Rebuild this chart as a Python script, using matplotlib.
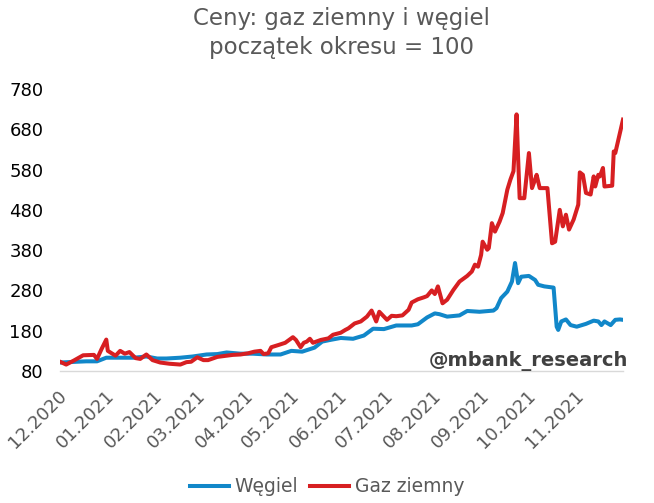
import matplotlib
matplotlib.use('Agg')
import matplotlib.pyplot as plt
import matplotlib.dates as mdates
import matplotlib.transforms as mtransforms
import pandas as pd

# ---------------- data ----------------
coal_dates = [
    "2020-12-01", "2020-12-12", "2020-12-18", "2020-12-25", "2020-12-31",
    "2021-01-07", "2021-01-18", "2021-01-26", "2021-02-02", "2021-02-08",
    "2021-02-17", "2021-02-25", "2021-03-06", "2021-03-13", "2021-03-19",
    "2021-03-28", "2021-04-05", "2021-04-14", "2021-04-23", "2021-04-30",
    "2021-05-07", "2021-05-15", "2021-05-20", "2021-05-25", "2021-06-01",
    "2021-06-09", "2021-06-16", "2021-06-22", "2021-06-29", "2021-07-07",
    "2021-07-17", "2021-07-21", "2021-07-27", "2021-08-01", "2021-08-04",
    "2021-08-09", "2021-08-17", "2021-08-22", "2021-08-30", "2021-09-08",
    "2021-09-10", "2021-09-13", "2021-09-17", "2021-09-20", "2021-09-22",
    "2021-09-24", "2021-09-26", "2021-10-01", "2021-10-05", "2021-10-07",
    "2021-10-11", "2021-10-17", "2021-10-19", "2021-10-20", "2021-10-22",
    "2021-10-25", "2021-10-28", "2021-11-01", "2021-11-07", "2021-11-12",
    "2021-11-15", "2021-11-17", "2021-11-19", "2021-11-23", "2021-11-26",
    "2021-11-29", "2021-12-01",
]
coal_values = [
    101, 103, 104, 104, 113,
    113, 113, 116, 111, 111,
    113, 116, 121, 122, 126,
    123, 123, 121, 121, 130,
    128, 138, 153, 157, 162,
    160, 168, 185, 184, 193,
    193, 196, 213, 223, 221,
    215, 218, 229, 227, 230,
    236, 261, 277, 302, 348,
    298, 314, 316, 306, 294,
    290, 287, 190, 182, 203,
    208, 194, 190, 197, 205,
    203, 194, 203, 194, 207,
    208, 207,
]

gas_dates = [
    "2020-12-01", "2020-12-05", "2020-12-10", "2020-12-16", "2020-12-23",
    "2020-12-25", "2020-12-28", "2020-12-31", "2021-01-01", "2021-01-06",
    "2021-01-09", "2021-01-12", "2021-01-15", "2021-01-19", "2021-01-22",
    "2021-01-26", "2021-01-30", "2021-02-04", "2021-02-10", "2021-02-17",
    "2021-02-21", "2021-02-24", "2021-02-28", "2021-03-04", "2021-03-07",
    "2021-03-13", "2021-03-19", "2021-03-23", "2021-03-28", "2021-04-02",
    "2021-04-06", "2021-04-10", "2021-04-12", "2021-04-15", "2021-04-17",
    "2021-04-22", "2021-04-26", "2021-05-01", "2021-05-03", "2021-05-06",
    "2021-05-08", "2021-05-10", "2021-05-12", "2021-05-14", "2021-05-19",
    "2021-05-24", "2021-05-27", "2021-06-01", "2021-06-04", "2021-06-06",
    "2021-06-10", "2021-06-14", "2021-06-18", "2021-06-21", "2021-06-24",
    "2021-06-26", "2021-06-29", "2021-07-01", "2021-07-04", "2021-07-07",
    "2021-07-11", "2021-07-15", "2021-07-17", "2021-07-21", "2021-07-25",
    "2021-07-27", "2021-07-30", "2021-08-01", "2021-08-03", "2021-08-06",
    "2021-08-09", "2021-08-13", "2021-08-17", "2021-08-22", "2021-08-25",
    "2021-08-27", "2021-08-29", "2021-08-31", "2021-09-01", "2021-09-04",
    "2021-09-05", "2021-09-07", "2021-09-09", "2021-09-12", "2021-09-14",
    "2021-09-17", "2021-09-19", "2021-09-21", "2021-09-23", "2021-09-24",
    "2021-09-25", "2021-09-28", "2021-10-01", "2021-10-03", "2021-10-05",
    "2021-10-06", "2021-10-08", "2021-10-13", "2021-10-16", "2021-10-18",
    "2021-10-21", "2021-10-23", "2021-10-25", "2021-10-27", "2021-10-30",
    "2021-11-02", "2021-11-03", "2021-11-05", "2021-11-07", "2021-11-10",
    "2021-11-12", "2021-11-13", "2021-11-15", "2021-11-16", "2021-11-18",
    "2021-11-19", "2021-11-24", "2021-11-25", "2021-11-26", "2021-12-01",
]
gas_values = [
    103, 96, 106, 119, 120,
    110, 135, 158, 130, 118,
    130, 123, 127, 112, 110,
    121, 107, 101, 98, 96,
    102, 103, 114, 107, 107,
    115, 118, 120, 121, 124,
    128, 130, 122, 124, 139,
    145, 150, 164, 157, 139,
    150, 153, 160, 150, 157,
    161, 170, 175, 182, 186,
    198, 203, 215, 230, 203,
    227, 215, 207, 217, 216,
    218, 232, 250, 258, 263,
    266, 280, 271, 290, 248,
    257, 281, 302, 316, 327,
    344, 339, 368, 401, 381,
    385, 447, 426, 451, 472,
    530, 555, 576, 717, 609,
    509, 509, 621, 534, 555,
    567, 534, 534, 397, 401,
    480, 439, 468, 431, 456,
    493, 573, 567, 522, 518,
    563, 538, 567, 563, 584,
    538, 540, 625, 621, 704,
]

series_names = ["Węgiel", "Gaz ziemny"]
title_lines = ["Ceny: gaz ziemny i węgiel", "początek okresu = 100"]
watermark = "@mbank_research"
y_ticks = [80, 180, 280, 380, 480, 580, 680, 780]
x_tick_months = ["2020-12-01", "2021-01-01", "2021-02-01", "2021-03-01",
                 "2021-04-01", "2021-05-01", "2021-06-01", "2021-07-01",
                 "2021-08-01", "2021-09-01", "2021-10-01", "2021-11-01"]
x_range = ["2020-12-01", "2021-12-01"]

# ---------------- styling ----------------
BLUE = "#1187c9"
RED = "#d71f22"
GREY_TXT = "#595959"

plt.rcParams['font.family'] = ['DejaVu Sans']

W, H = 654, 503
fig = plt.figure(figsize=(W / 100, H / 100), dpi=100)
fig.patch.set_facecolor('white')

ax = fig.add_axes([60 / W, 1 - 371 / H, 563 / W, 282 / H])

cd = pd.to_datetime(coal_dates)
gd = pd.to_datetime(gas_dates)
ax.plot(cd, coal_values, color=BLUE, lw=2.9, solid_joinstyle='round',
        label=series_names[0], zorder=2)
ax.plot(gd, gas_values, color=RED, lw=2.9, solid_joinstyle='round',
        label=series_names[1], zorder=3)

ax.set_ylim(y_ticks[0], y_ticks[-1])
ax.set_xlim(pd.to_datetime(x_range[0]), pd.to_datetime(x_range[1]))
ax.set_yticks(y_ticks)
ax.set_xticks(pd.to_datetime(x_tick_months))
ax.xaxis.set_major_formatter(mdates.DateFormatter('%m.%Y'))

for s in ['top', 'right', 'left']:
    ax.spines[s].set_visible(False)
ax.spines['bottom'].set_color('#d9d9d9')
ax.spines['bottom'].set_linewidth(1.0)

ax.tick_params(axis='y', length=0, pad=12, labelsize=13, labelcolor='black')
ax.tick_params(axis='x', length=0, pad=16, labelsize=13, labelcolor=GREY_TXT)
shift = mtransforms.ScaledTranslation(4 / 100, 0, fig.dpi_scale_trans)
for lab in ax.get_xticklabels():
    lab.set_rotation(45)
    lab.set_ha('right')
    lab.set_va('center')
    lab.set_rotation_mode('anchor')
    lab.set_transform(lab.get_transform() + shift)

fig.text((60 + 623) / 2 / W, 1 - 33 / H, "\n".join(title_lines),
         ha='center', va='center', fontsize=16.5, color=GREY_TXT,
         linespacing=1.3)

fig.text(628 / W, 1 - 366 / H, watermark, ha='right', va='baseline',
         fontsize=14, fontweight='bold', color='#404040')

fig.legend(loc='center', bbox_to_anchor=(0.5, 1 - 487 / H), ncol=2,
           frameon=False, fontsize=13.5, labelcolor=GREY_TXT,
           handlelength=2.1, handletextpad=0.3, columnspacing=0.6)

fig.savefig('out.png', dpi=100, facecolor='white')
